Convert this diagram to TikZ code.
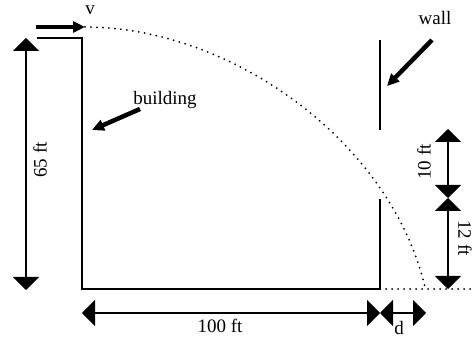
\documentclass[tikz,border=0pt]{standalone}
\usepackage{fontspec}
\setmainfont{Liberation Serif}
\usetikzlibrary{arrows.meta}
\begin{document}
\begin{tikzpicture}[x=1pt,y=-1pt,
  lbl/.style={inner sep=0pt,font=\fontsize{19}{22}\selectfont},
  dimline/.style={line width=1.4pt,{Triangle[width=26pt,length=13pt]}-{Triangle[width=26pt,length=13pt]}},
  bigarrow/.style={line width=4.5pt,-{Triangle[width=11pt,length=12pt]}},
  solidline/.style={line width=1.5pt},
  dotline/.style={line width=2pt,line cap=round,dash pattern=on 0pt off 6pt}]
\useasboundingbox (0,0) rectangle (472,339);
% coordinates
\coordinate (bTL) at (37,38);
\coordinate (bTR) at (82,38);
\coordinate (bBR) at (82,289);
\coordinate (wB) at (380,289);
\coordinate (wLt) at (380,199);
\coordinate (wUt) at (380,40);
\coordinate (wUb) at (380,130);
\coordinate (gE) at (472,289);
\coordinate (start) at (85,27);
\coordinate (land) at (425,287);
% building and wall
\draw[solidline] (bTL) -- (bTR) -- (bBR) -- (wB) -- (wLt);
\draw[solidline] (wUt) -- (wUb);
% ground extension and trajectory
\draw[dotline] (wB) -- (gE);
\draw[dotline] (start) .. controls (230,27) and (390,140) .. (land);
% velocity arrow
\coordinate (vT) at (36,27);
\draw[bigarrow] (vT) -- (start);
\node[lbl] (v) at (90,10) {v};
% building label
\node[lbl] (bl) at (165,100) {building};
\coordinate (blT) at (140,109);
\coordinate (blH) at (92,130);
\draw[bigarrow] (blT) -- (blH);
% wall label
\node[lbl] (wl) at (435,18) {wall};
\coordinate (wlT) at (432,40);
\coordinate (wlH) at (387,86);
\draw[bigarrow] (wlT) -- (wlH);
% 65 ft
\coordinate (h1) at (26,38);
\coordinate (h2) at (26,290);
\draw[dimline] (h2) -- (h1);
\node[lbl,rotate=90] (h65) at (40,160) {65 ft};
% 10 ft and 12 ft
\coordinate (r1) at (448,129);
\coordinate (r2) at (448,198);
\coordinate (r3) at (448,289);
\draw[dimline] (r2) -- (r1);
\draw[dimline] (r2) -- (r3);
\node[lbl,rotate=90] (t10) at (424,162) {10 ft};
\node[lbl,rotate=-90] (t12) at (465,238) {12 ft};
% bottom dims
\coordinate (d1) at (82,313);
\coordinate (d2) at (380,313);
\coordinate (d3) at (426,313);
\draw[dimline] (d1) -- (d2);
\draw[dimline] (d2) -- (d3);
\node[lbl] (t100) at (220,326) {100 ft};
\node[lbl] (td) at (399,328) {d};
\end{tikzpicture}
\end{document}
